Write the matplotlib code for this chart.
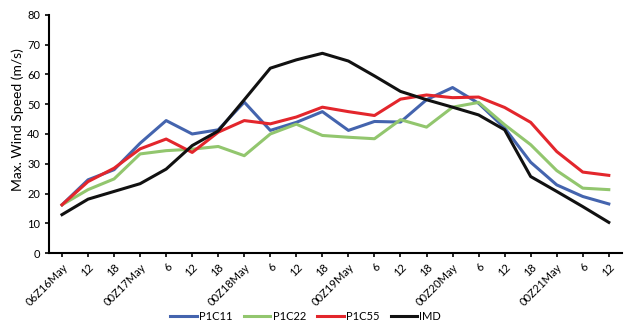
import matplotlib
matplotlib.use('Agg')
import matplotlib.pyplot as plt

labels = ['06Z16May', '12', '18', '00Z17May', '6', '12', '18', '00Z18May',
          '6', '12', '18', '00Z19May', '6', '12', '18', '00Z20May',
          '6', '12', '18', '00Z21May', '6', '12']

p1c11 = [16.2, 24.6, 28.0, 36.9, 44.5, 40.0, 41.4, 50.7, 41.2, 43.9, 47.5,
         41.2, 44.2, 44.0, 51.5, 55.6, 50.3, 42.0, 30.5, 22.9, 19.0, 16.5]
p1c22 = [16.2, 21.3, 24.9, 33.3, 34.4, 34.9, 35.8, 32.7, 40.0, 43.3, 39.5,
         38.9, 38.4, 44.8, 42.3, 49.0, 50.6, 43.1, 36.4, 27.7, 21.8, 21.3]
p1c55 = [16.2, 24.0, 28.5, 35.0, 38.3, 33.8, 40.6, 44.5, 43.4, 45.7, 49.0,
         47.5, 46.2, 51.7, 53.1, 52.2, 52.4, 48.9, 43.9, 34.1, 27.2, 26.1]
imd = [12.9, 18.1, 20.7, 23.3, 28.2, 36.1, 41.0, 51.5, 62.1, 64.9, 67.1,
       64.5, 59.5, 54.3, 51.5, 49.0, 46.4, 41.4, 25.7, 20.7, 15.6, 10.3]

plt.rcParams['font.family'] = ['Lato', 'DejaVu Sans']

fig = plt.figure(figsize=(6.24, 3.24), dpi=100)
ax = fig.add_axes([0.0785, 0.219, 0.918, 0.735])

x = list(range(len(labels)))
ax.plot(x, p1c11, color='#4464ae', lw=2.2, label='P1C11')
ax.plot(x, p1c22, color='#92c66e', lw=2.2, label='P1C22')
ax.plot(x, p1c55, color='#e3262c', lw=2.2, label='P1C55')
ax.plot(x, imd, color='#111111', lw=2.2, label='IMD')

ax.set_xlim(-0.5, 21.5)
ax.set_ylim(0, 80)
ax.set_yticks(range(0, 81, 10))
ax.set_xticks(x)
ax.set_xticklabels(labels, rotation=45, ha='right', rotation_mode='anchor')
ax.tick_params(labelsize=8, length=3, width=1.2, color='black')
ax.tick_params(axis='x', pad=3)
ax.set_ylabel('Max. Wind Speed (m/s)', fontsize=10)
ax.yaxis.set_label_coords(-0.044, 0.56)

for s in ['top', 'right']:
    ax.spines[s].set_visible(False)
for s in ['left', 'bottom']:
    ax.spines[s].set_linewidth(1.5)

fig.legend(loc='lower center', bbox_to_anchor=(0.49, -0.017), ncol=4, frameon=False,
           fontsize=8, handlelength=2.4, columnspacing=1.0, handletextpad=0.2,
           borderpad=0.2)

fig.savefig('out.png', dpi=100)
